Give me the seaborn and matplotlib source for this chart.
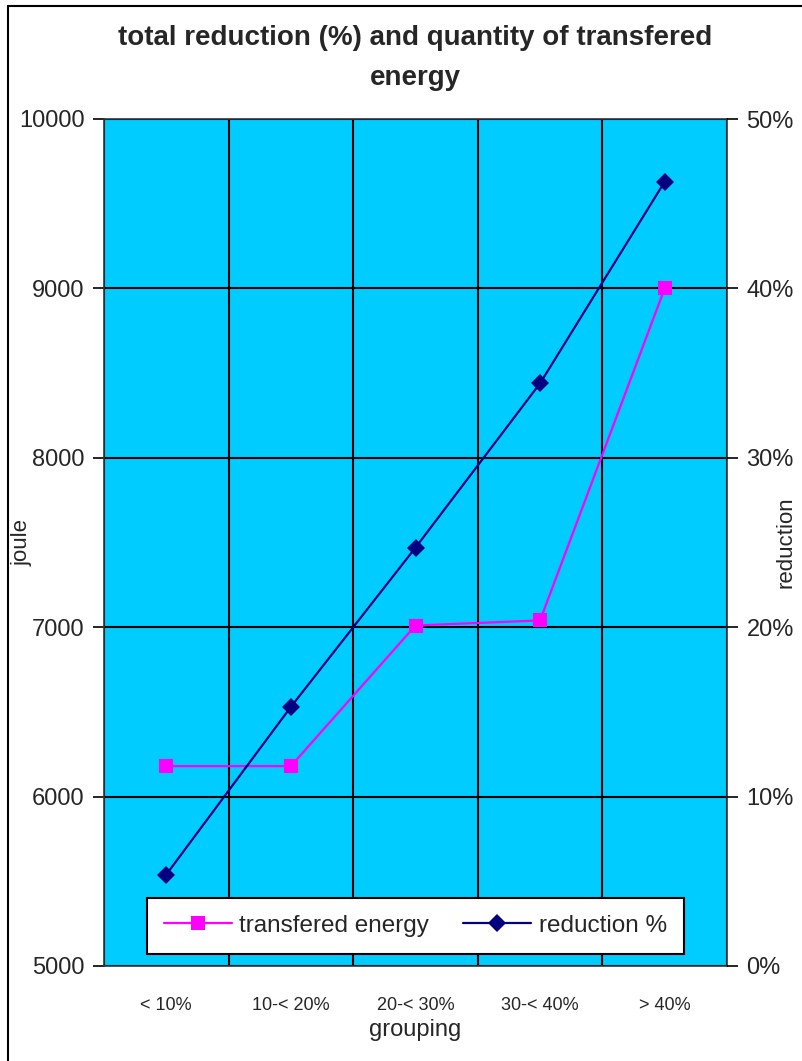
import matplotlib
matplotlib.use("Agg")
import matplotlib.pyplot as plt
import matplotlib.ticker as mticker
from matplotlib.lines import Line2D
from matplotlib.patches import Rectangle
import seaborn as sns
import pandas as pd

# Data
categories = ["< 10%", "10-< 20%", "20-< 30%", "30-< 40%", "> 40%"]
energy_joule = [6180, 6180, 7010, 7040, 9000]
reduction_pct = [0.054, 0.153, 0.247, 0.344, 0.463]
left_ticks = [5000, 6000, 7000, 8000, 9000, 10000]
right_ticks = [0.0, 0.1, 0.2, 0.3, 0.4, 0.5]

sns.set_style("white")
plt.rcParams["font.family"] = ["Liberation Sans", "DejaVu Sans"]

df = pd.DataFrame({
    "pos": range(len(categories)),
    "group": categories,
    "energy": energy_joule,
    "reduction": reduction_pct,
})

fig = plt.figure(figsize=(8.02, 10.61), dpi=100)
fig.patch.set_facecolor("white")
ax = fig.add_axes([104 / 802, 1 - 966 / 1061, (727 - 104) / 802, (966 - 119) / 1061])
ax.set_facecolor("#00CCFF")

magenta = "#FF00FF"
navy = "#000080"

sns.lineplot(data=df, x="pos", y="energy", ax=ax, color=magenta, linewidth=1.6,
             marker="s", markersize=10, markeredgewidth=0, zorder=5)
ax.set_ylim(left_ticks[0], left_ticks[-1])
ax.set_xlim(-0.5, len(categories) - 0.5)

# category boundaries as major ticks (grid), labels at centres
ax.set_xticks([i - 0.5 for i in range(len(categories) + 1)])
ax.set_xticklabels([])
ax.set_xticks(list(range(len(categories))), minor=True)
ax.set_xticklabels(categories, minor=True, fontsize=13)
ax.tick_params(axis="x", which="major", direction="inout", length=12, width=1.2, color="black")
ax.tick_params(axis="x", which="minor", length=0, pad=22)
ax.set_yticks(left_ticks)
ax.set_yticklabels([str(v) for v in left_ticks], fontsize=17)
ax.tick_params(axis="y", which="major", direction="out", length=8, width=1.2, color="black", pad=6)

ax.grid(True, which="major", color="black", linewidth=1.5)
ax.set_axisbelow(True)
for s in ax.spines.values():
    s.set_color("#333333")
    s.set_linewidth(1.2)

ax.set_xlabel("grouping", fontsize=17, labelpad=4)
ax.set_ylabel("joule", fontsize=16)
ax.yaxis.set_label_coords((32 - 104) / 623, 0.5)

ax2 = ax.twinx()
sns.lineplot(data=df, x="pos", y="reduction", ax=ax2, color=navy, linewidth=1.6,
             marker="D", markersize=9, markeredgewidth=0, zorder=6)
ax2.set_ylim(right_ticks[0], right_ticks[-1])
ax2.set_xlim(-0.5, len(categories) - 0.5)
ax2.set_yticks(right_ticks)
ax2.yaxis.set_major_formatter(mticker.FuncFormatter(lambda v, p: f"{v * 100:.0f}%"))
ax2.tick_params(axis="y", labelsize=17, direction="out", length=8, width=1.2, color="black", pad=6)
ax2.set_ylabel("reduction", fontsize=16)
ax2.yaxis.set_label_coords((775 - 104) / 623, 0.5)
ax2.grid(False)
for s in ax2.spines.values():
    s.set_visible(False)

handles = [
    Line2D([0], [0], color=magenta, linewidth=1.6, marker="s", markersize=10, markeredgewidth=0),
    Line2D([0], [0], color=navy, linewidth=1.6, marker="D", markersize=9, markeredgewidth=0),
]
leg = ax2.legend(handles, ["transfered energy", "reduction %"], loc="lower center",
                 bbox_to_anchor=(0.5, 0.0), ncol=2, fontsize=17.5, frameon=True,
                 fancybox=False, framealpha=1, edgecolor="black", handlelength=2.8,
                 columnspacing=1.4, handletextpad=0.3, borderpad=0.7)
leg.get_frame().set_linewidth(1.5)

fig.text(415 / 802, 1 - 38 / 1061, "total reduction (%) and quantity of transfered",
         ha="center", va="center", fontsize=20, fontweight="bold")
fig.text(415 / 802, 1 - 78 / 1061, "energy",
         ha="center", va="center", fontsize=20, fontweight="bold")

# outer chart border
fig.add_artist(Rectangle((8 / 802, -0.05), 1.0, 1 - 6 / 1061 + 0.05,
                         transform=fig.transFigure, fill=False,
                         edgecolor="black", linewidth=1.5))

fig.savefig("out.png", dpi=100)
